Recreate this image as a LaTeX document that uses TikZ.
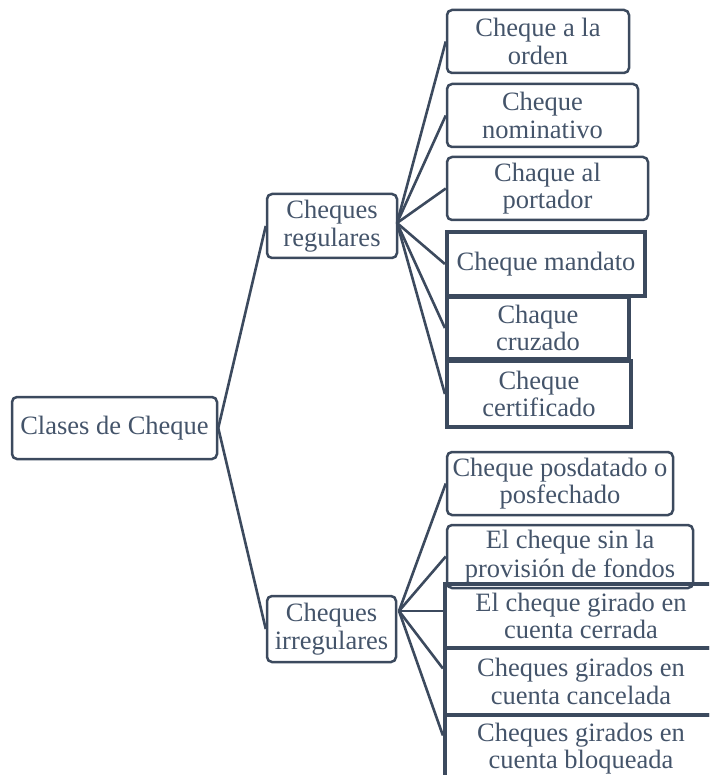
\documentclass[tikz,border=0pt]{standalone}
\usepackage{fontspec}
\setmainfont{Liberation Serif}
\definecolor{txt}{HTML}{44546A}
\definecolor{ln}{HTML}{3C4A5E}
\begin{document}
\begin{tikzpicture}[x=1pt,y=-1pt,
  lbl/.style={align=center, text=txt, inner sep=0pt, font=\fontsize{26.5}{27.5}\selectfont},
  box/.style={lbl, draw=ln, line width=2.5pt, rounded corners=5pt},
  tbox/.style={lbl, draw=ln, line width=4.2pt},
  conn/.style={draw=ln, line width=2.6pt}]
\clip (0,0) rectangle (709,775);
% root and level 1
\node[box, minimum width=205pt, minimum height=62pt] (root) at (114.5,428) {Clases de Cheque};
\node[box, minimum width=130pt, minimum height=64pt] (reg) at (332,226) {Cheques\\regulares};
\node[box, minimum width=129pt, minimum height=66pt] (irr) at (331.5,629) {Cheques\\irregulares};
% regular children
\node[box, minimum width=182pt, minimum height=63pt] (c1) at (538,41.5) {Cheque a la\\orden};
\node[box, minimum width=191pt, minimum height=63pt] (c2) at (542.5,115.5) {Cheque\\nominativo};
\node[box, minimum width=201pt, minimum height=63pt] (c3) at (547.5,188.5) {Chaque al\\portador};
\node[tbox, minimum width=198pt, minimum height=64pt] (c4) at (546,264) {Cheque mandato};
\node[tbox, minimum width=182pt, minimum height=62pt] (c5) at (538,328) {Chaque\\cruzado};
\node[tbox, minimum width=184pt, minimum height=66pt] (c6) at (539,394) {Cheque\\certificado};
% irregular children
\node[box, minimum width=226pt, minimum height=63pt] (d1) at (560,483.5) {Cheque posdatado o\\posfechado};
\node[box, minimum width=246pt, minimum height=63pt] (d2) at (570,556.5) {El cheque sin la\\[2pt]provisión de fondos};
\node[tbox, minimum width=272pt, minimum height=64pt] (d3) at (581,616) {El cheque girado en\\cuenta cerrada};
\node[tbox, minimum width=272pt, minimum height=67pt] (d4) at (581,681.5) {Cheques girados en\\cuenta cancelada};
\node[tbox, minimum width=272pt, minimum height=67pt] (d5) at (581,748.5) {Cheques girados en\\cuenta bloqueada};
% hubs
\coordinate (rh) at (397,223);
\coordinate (ih) at (399,611);
% connectors
\draw[conn] (root.east) -- (reg.west);
\draw[conn] (root.east) -- (irr.west);
\foreach \n in {c1,c2,c3,c4,c5,c6} \draw[conn] (rh) -- (\n.west);
\foreach \n in {d1,d2} \draw[conn] (ih) -- (\n.west);
\draw[conn] (ih) -- ([yshift=5pt]d3.west);
\draw[conn] (ih) -- ([yshift=13pt]d4.west);
\draw[conn] (ih) -- ([yshift=13pt]d5.west);
\end{tikzpicture}
\end{document}
